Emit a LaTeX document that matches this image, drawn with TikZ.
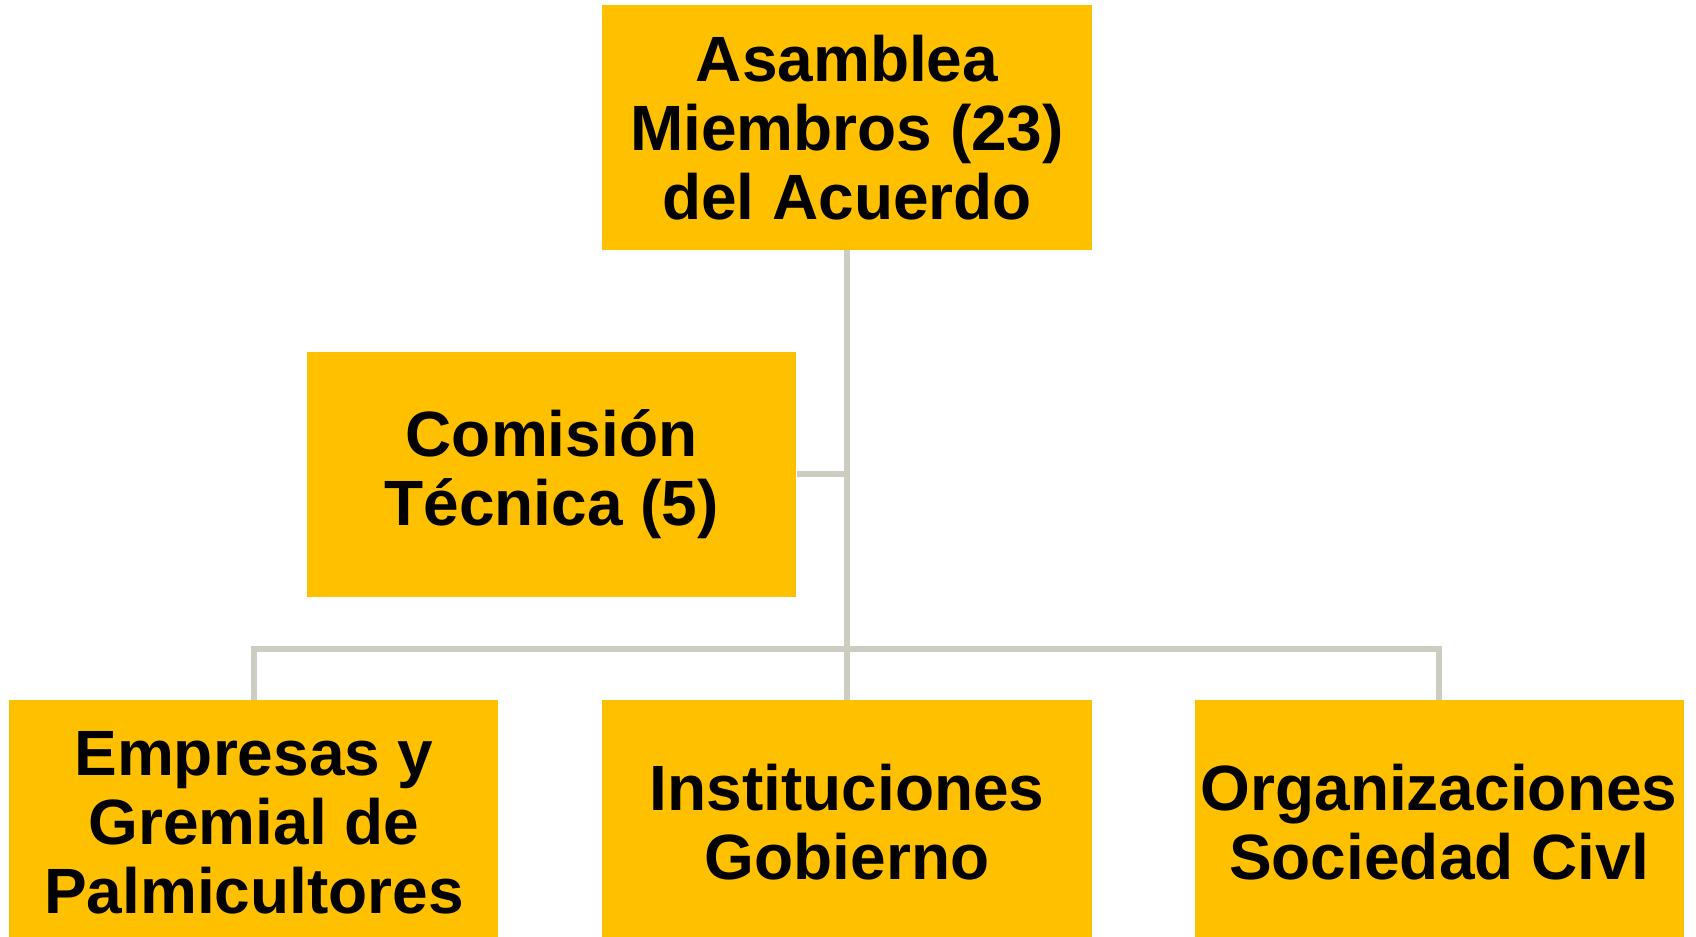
\documentclass[tikz,border=0pt]{standalone}
\usepackage{fontspec}
\setmainfont{Liberation Sans}
\usepackage{xcolor}
\usetikzlibrary{positioning,calc}

\definecolor{gold}{HTML}{FFC000}
\definecolor{linegray}{RGB}{205,204,192}

\tikzset{
	unit/.style={fill=gold, inner sep=0pt, minimum width=195.6pt, minimum height=98pt,
		align=center, font=\fontsize{25.6pt}{27.6pt}\selectfont\bfseries},
	link/.style={draw=linegray, line width=2.4pt},
}

\begin{document}
\begin{tikzpicture}[x=0.4pt,y=-0.4pt]
			\clip (0,0) rectangle (1696,937);
			\node[unit] (top) at (847,127.5) {Asamblea\\Miembros (23)\\del Acuerdo};
			\node[unit] (com) at (551.5,474.5) {Comisión\\Técnica (5)};
			\node[unit, below=179.6pt of top] (mid) {Instituciones\\Gobierno};
			\node[unit, left=41.2pt of mid] (left) {Empresas y\\Gremial de\\Palmicultores};
			\node[unit, right=40.8pt of mid] (right) {Organizaciones\\Sociedad Civl};
			\coordinate[above=20.4pt of mid.north] (bus);
			%
			\draw[link] (top.south) -- (bus);
			\draw[link] (com.east) -- (com.east -| top.south);
			\draw[link] (left.north) |- (bus) -| (right.north);
			\draw[link] (bus) -- (mid.north);
\end{tikzpicture}
\end{document}
